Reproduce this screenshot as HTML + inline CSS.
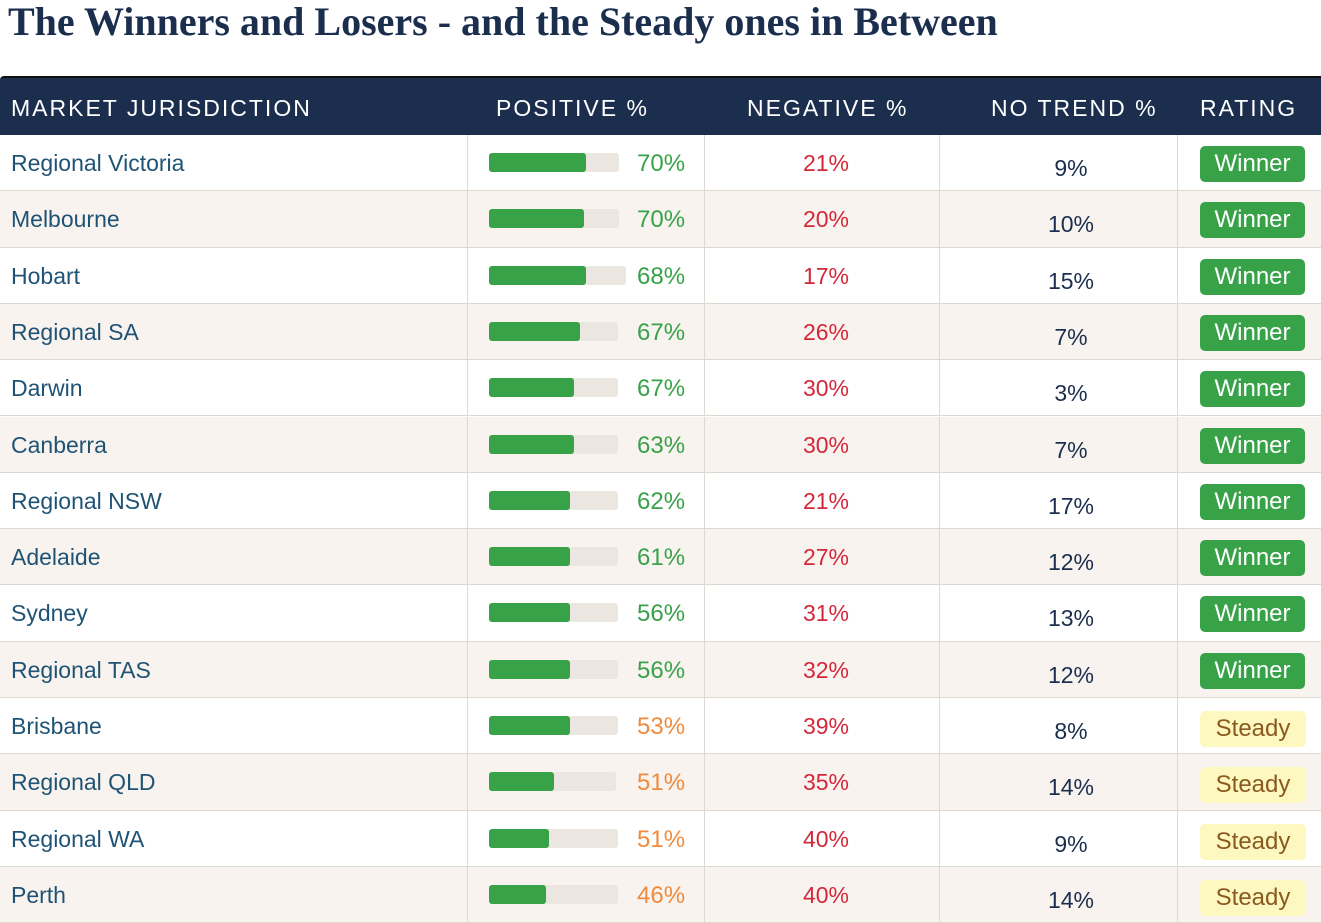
<!DOCTYPE html><html><head><style>
body{margin:0;width:1321px;height:919px;overflow:hidden;background:#fff;font-family:"Liberation Sans",sans-serif;position:relative}
.t{position:absolute;left:8px;top:-2px;font-family:"Liberation Serif",serif;font-weight:bold;font-size:40px;color:#1b2e4e;white-space:nowrap}
.hd{position:absolute;left:0;top:76px;width:1321px;height:59px;background:#1b2e4e;border-top:2px solid #111;box-sizing:border-box;border-radius:4px 0 0 0}
.h{position:absolute;top:95px;color:#fff;font-size:23px;letter-spacing:2px}
.r{position:absolute;left:0;width:1321px;border-bottom:1px solid #ddd8d2;box-sizing:border-box}
.v{position:absolute;top:0;bottom:0;width:1px;background:#ddd8d2}
.n{position:absolute;left:11px;font-size:23px;color:#1f5375}
.tr{position:absolute;left:489px;height:19px;background:#ebe6df;border-radius:3px}
.f{position:absolute;left:0;top:0;height:19px;background:#38a249;border-radius:3px}
.p{position:absolute;left:637px;font-size:24px}
.ng{position:absolute;left:766px;width:120px;text-align:center;font-size:23px;color:#d3283a}
.nt{position:absolute;left:1011px;width:120px;text-align:center;font-size:23px;color:#1b2e4e}
.b{position:absolute;height:36px;line-height:36px;border-radius:5px;font-size:24px;text-align:center}
.w{left:1200px;width:105px;background:#38a249;color:#fff}
.s{left:1200px;width:106px;background:#fdf7c0;color:#8a5a1e}
</style></head><body>
<div class="t">The Winners and Losers - and the Steady ones in Between</div>
<div class="hd"></div>
<div class="h" style="left:11px">MARKET JURISDICTION</div>
<div class="h" style="left:496px">POSITIVE %</div>
<div class="h" style="left:747px">NEGATIVE %</div>
<div class="h" style="left:991px">NO TREND %</div>
<div class="h" style="left:1200px">RATING</div>
<div id="rows"></div>
<script>
(function(){
var d=[["Regional Victoria",70,21,9,97,130],["Melbourne",70,20,10,95,130],["Hobart",68,17,15,97,137],["Regional SA",67,26,7,91,129],["Darwin",67,30,3,85,129],["Canberra",63,30,7,85,129],["Regional NSW",62,21,17,81,129],["Adelaide",61,27,12,81,129],["Sydney",56,31,13,81,129],["Regional TAS",56,32,12,81,129],["Brisbane",53,39,8,81,129],["Regional QLD",51,35,14,65,127],["Regional WA",51,40,9,60,129],["Perth",46,40,14,57,129]];
var h="";
for(var i=0;i<d.length;i++){var r=d[i],y=135+i*56.3,bg=i%2?"#f8f3ef":"#fff",win=i<10;
h+='<div class="r" style="top:'+y+'px;height:56.3px;background:'+bg+'"><div class="v" style="left:467px"></div><div class="v" style="left:704px"></div><div class="v" style="left:939px"></div><div class="v" style="left:1177px"></div>'+
'<div class="n" style="top:15px">'+r[0]+'</div>'+
'<div class="tr" style="top:18px;width:'+r[5]+'px"><div class="f" style="width:'+r[4]+'px"></div></div>'+
'<div class="p" style="top:15px;color:'+(win?'#38a249':'#f08a3c')+'">'+r[1]+'%</div>'+
'<div class="ng" style="top:15px">'+r[2]+'%</div>'+
'<div class="nt" style="top:20px">'+r[3]+'%</div>'+
'<div class="b '+(win?'w':'s')+'" style="top:'+(win?11:13)+'px">'+(win?'Winner':'Steady')+'</div></div>';}
document.getElementById("rows").innerHTML=h;
})();
</script>
</body></html>
